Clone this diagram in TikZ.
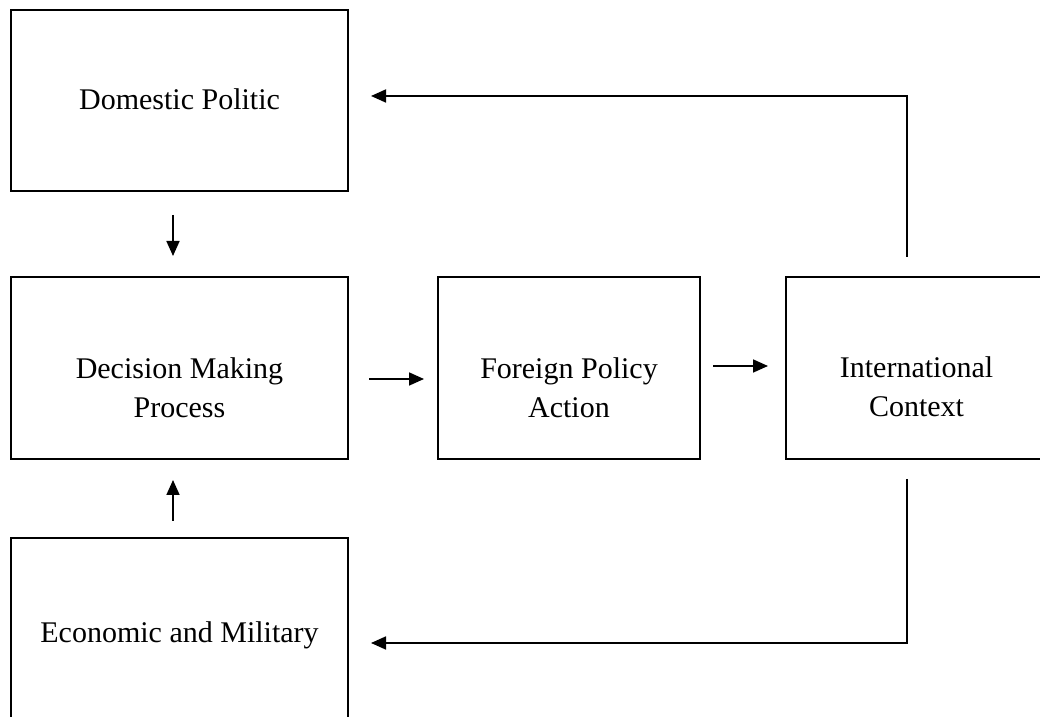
\documentclass[tikz,border=0pt]{standalone}
\usepackage{fontspec}
\setmainfont{Liberation Serif}
\usetikzlibrary{arrows.meta,calc}
\begin{document}
\begin{tikzpicture}[x=0.4pt,y=-0.4pt,
  box/.style={draw=black,line width=0.8pt,rectangle,inner sep=0pt},
  txt/.style={font=\fontsize{12}{15.8}\selectfont,align=center,inner sep=0pt},
  arr/.style={draw=black,line width=0.7pt,-{Triangle[length=6pt,width=5.2pt]}},
  ln/.style={draw=black,line width=0.7pt}]
\useasboundingbox (0,0) rectangle (1040,717);
\clip (0,0) rectangle (1040,717);
% boxes
\node[box,minimum width=337*0.4pt,minimum height=181*0.4pt] (dom) at (179.5,100.5) {};
\node[box,minimum width=337*0.4pt,minimum height=182*0.4pt] (dec) at (179.5,368) {};
\node[box,minimum width=262*0.4pt,minimum height=182*0.4pt] (fpa) at (569,368) {};
\node[box,minimum width=261*0.4pt,minimum height=182*0.4pt] (ic) at (916.5,368) {};
\node[box,minimum width=337*0.4pt,minimum height=202*0.4pt] (eco) at (179.5,639) {};
% texts
\node[txt,anchor=base] (domt) at (179.5,110) {Domestic Politic};
\node[txt,anchor=base] (dect) at (179.5,418) {Decision Making\\Process};
\node[txt,anchor=base] (fpat) at (569,418) {Foreign Policy\\Action};
\node[txt,anchor=base] (ict) at (916.5,417) {International\\Context};
\node[txt,anchor=base] (ecot) at (179.5,643) {Economic and Military};
% connectors
\draw[arr] ($(dom.south)+(-6.5,23)$) -- ($(dec.north)+(-6.5,-20)$);
\draw[arr] ($(eco.north)+(-6.5,-16)$) -- ($(dec.south)+(-6.5,20)$);
\draw[arr] ($(dec.east)+(20,11)$) -- ($(fpa.west)+(-13,11)$);
\draw[arr] ($(fpa.east)+(12,-2)$) -- ($(ic.west)+(-17,-2)$);
\draw[arr] ($(ic.north)+(-9.5,-19)$) |- ($(dom.east)+(22,-4.5)$);
\draw[arr] ($(ic.south)+(-9.5,19)$) |- ($(eco.east)+(22,4)$);
\end{tikzpicture}
\end{document}
